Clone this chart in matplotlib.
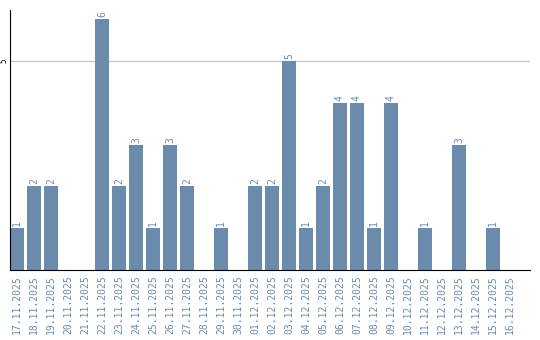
import matplotlib
matplotlib.use("Agg")
import matplotlib.pyplot as plt

dates = ["17.11.2025", "18.11.2025", "19.11.2025", "20.11.2025", "21.11.2025",
         "22.11.2025", "23.11.2025", "24.11.2025", "25.11.2025", "26.11.2025",
         "27.11.2025", "28.11.2025", "29.11.2025", "30.11.2025", "01.12.2025",
         "02.12.2025", "03.12.2025", "04.12.2025", "05.12.2025", "06.12.2025",
         "07.12.2025", "08.12.2025", "09.12.2025", "10.12.2025", "11.12.2025",
         "12.12.2025", "13.12.2025", "14.12.2025", "15.12.2025", "16.12.2025"]
counts = [1, 2, 2, 0, 0, 6, 2, 3, 1, 3, 2, 0, 1, 0, 2,
          2, 5, 1, 2, 4, 4, 1, 4, 0, 1, 0, 3, 0, 1, 0]

bar_color = "#6a8bab"
text_color = "#6a8bab"

fig = plt.figure(figsize=(5.4, 3.4), dpi=100)
ax = fig.add_axes([10 / 540, 70 / 340, 520 / 540, 260 / 340])

x = list(range(len(dates)))
ax.bar(x, counts, width=0.82, color=bar_color, zorder=2)

for i, v in enumerate(counts):
    if v > 0:
        ax.text(i, v + 0.05, str(v), rotation=90, ha="center", va="bottom",
                fontsize=7, color=text_color, family="DejaVu Sans Mono")

ax.set_xlim(-0.41, 30.18)
ax.set_ylim(0, 6.22)
ax.set_yticks([5])
ax.set_yticklabels(["5"], rotation=90, va="center", fontsize=5.5,
                   family="DejaVu Sans Mono")
ax.axhline(5, color="#c8c8c8", linewidth=1, zorder=1)

ax.set_xticks(x)
ax.set_xticklabels(dates, rotation=90, fontsize=7, color=text_color,
                   family="DejaVu Sans Mono")
ax.tick_params(axis="x", length=0, pad=4)
ax.tick_params(axis="y", length=0, pad=1)

for side in ["top", "right"]:
    ax.spines[side].set_visible(False)
ax.spines["left"].set_color("black")
ax.spines["bottom"].set_color("black")

fig.savefig("out.png", dpi=100)
